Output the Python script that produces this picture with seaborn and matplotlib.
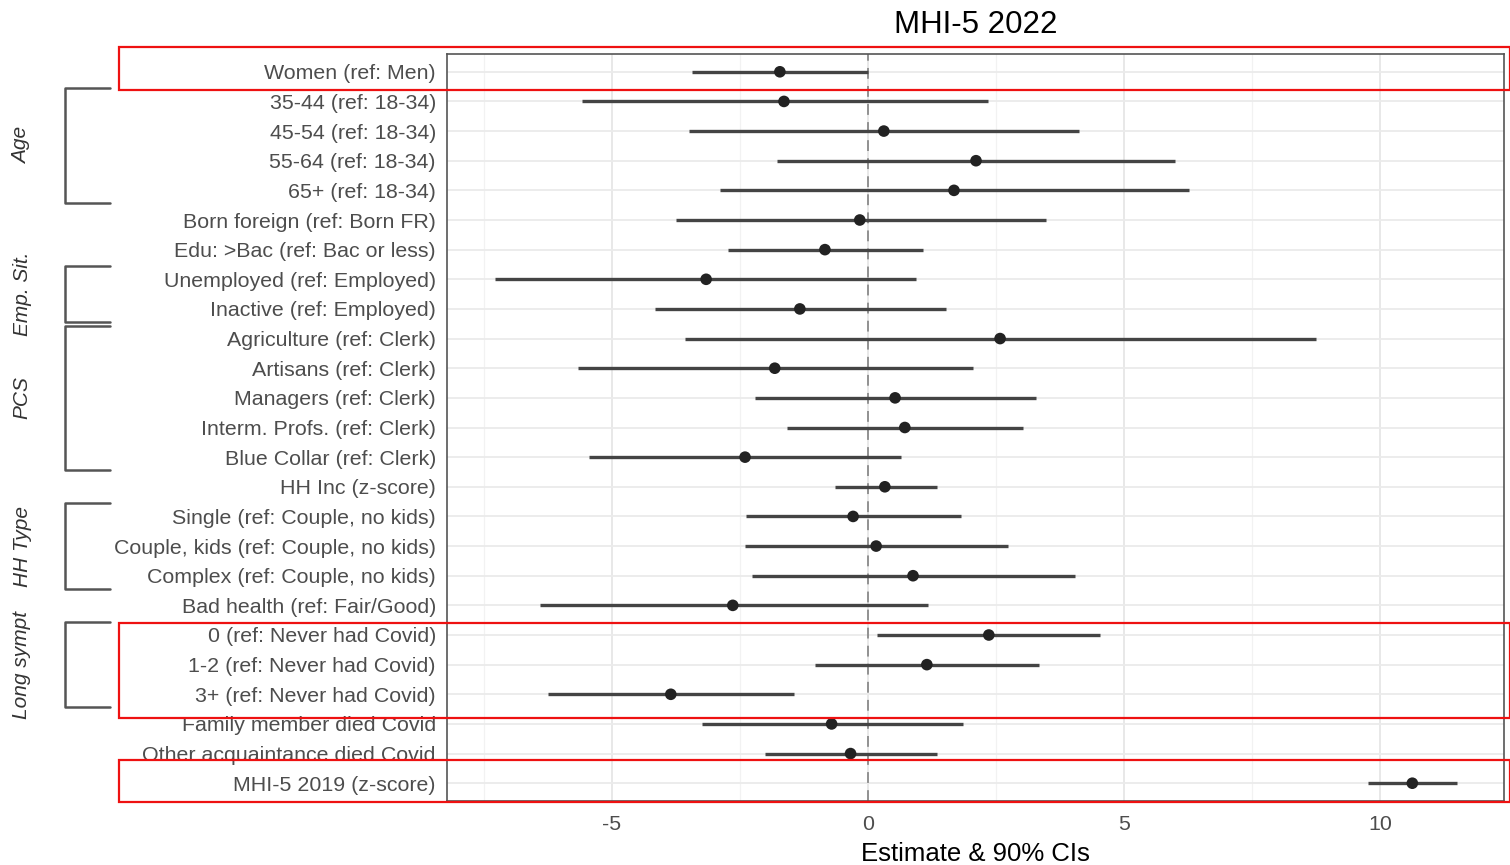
import numpy as np
import pandas as pd
import matplotlib
matplotlib.use("Agg")
import matplotlib.pyplot as plt
import matplotlib.transforms as mtransforms
from matplotlib.patches import Rectangle
from matplotlib.lines import Line2D
import seaborn as sns

# data
labels = [
    "Women (ref: Men)", "35-44 (ref: 18-34)", "45-54 (ref: 18-34)",
    "55-64 (ref: 18-34)", "65+ (ref: 18-34)", "Born foreign (ref: Born FR)",
    "Edu: >Bac (ref: Bac or less)", "Unemployed (ref: Employed)",
    "Inactive (ref: Employed)", "Agriculture (ref: Clerk)",
    "Artisans (ref: Clerk)", "Managers (ref: Clerk)",
    "Interm. Profs. (ref: Clerk)", "Blue Collar (ref: Clerk)",
    "HH Inc (z-score)", "Single (ref: Couple, no kids)",
    "Couple, kids (ref: Couple, no kids)", "Complex (ref: Couple, no kids)",
    "Bad health (ref: Fair/Good)", "0 (ref: Never had Covid)",
    "1-2 (ref: Never had Covid)", "3+ (ref: Never had Covid)",
    "Family member died Covid", "Other acquaintance died Covid",
    "MHI-5 2019 (z-score)",
]
estimate = [-1.72, -1.64, 0.31, 2.11, 1.68, -0.16, -0.84, -3.16, -1.33, 2.58,
            -1.82, 0.53, 0.72, -2.40, 0.33, -0.29, 0.16, 0.88, -2.64, 2.36,
            1.15, -3.85, -0.71, -0.34, 10.63]
ci_low = [-3.44, -5.59, -3.50, -1.78, -2.89, -3.75, -2.73, -7.29, -4.16, -3.57,
          -5.66, -2.21, -1.58, -5.45, -0.64, -2.38, -2.40, -2.27, -6.41, 0.18,
          -1.04, -6.24, -3.25, -2.01, 9.77]
ci_high = [0.0, 2.34, 4.12, 6.00, 6.27, 3.48, 1.07, 0.94, 1.52, 8.75,
           2.05, 3.28, 3.03, 0.64, 1.35, 1.82, 2.73, 4.04, 1.17, 4.53,
           3.34, -1.44, 1.85, 1.35, 11.50]

group_names = ["Age", "Emp. Sit.", "PCS", "HH Type", "Long sympt"]
group_first = [1, 7, 9, 15, 19]
group_last = [4, 8, 13, 17, 21]

df = pd.DataFrame({"label": labels, "est": estimate,
                   "lo": ci_low, "hi": ci_high})
df["pos"] = np.arange(len(df))

sns.set_style("white")
plt.rcParams["font.family"] = ["Liberation Sans", "DejaVu Sans"]

W, H = 1510, 865
fig = plt.figure(figsize=(W / 100, H / 100), dpi=100)
ax = fig.add_axes([447 / W, 1 - 801 / H, (1504 - 447) / W, (801 - 54) / H])

# grid like ggplot theme_bw
for v in [-7.5, -2.5, 2.5, 7.5]:
    ax.axvline(v, color="#f2f2f2", lw=0.9, zorder=0)
for v in [-5, 0, 5, 10]:
    ax.axvline(v, color="#e6e6e6", lw=1.3, zorder=0)
for p in df["pos"]:
    ax.axhline(p, color="#ebebeb", lw=1.3, zorder=0)

ax.axvline(0, color="#8a8a8a", lw=1.3, ls=(0, (6, 4)), zorder=1)

ax.hlines(df["pos"], df["lo"], df["hi"], color="#444444", lw=2.4, zorder=2)
sns.scatterplot(data=df, x="est", y="pos", ax=ax, color="#222222", s=70,
                edgecolor="none", zorder=3, legend=False)

ax.set_xlim(-8.22, 12.42)
ax.set_ylim(len(df) - 0.4, -0.6)
ax.set_yticks(df["pos"])
ax.set_yticklabels(df["label"])
ax.set_xticks([-5, 0, 5, 10])
ax.set_xticklabels(["-5", "0", "5", "10"])
ax.tick_params(axis="both", labelsize=15.4, colors="#4d4d4d", length=4,
               width=1.2, pad=4)
ax.tick_params(axis="x", pad=6)
for s in ax.spines.values():
    s.set_color("#555555")
    s.set_linewidth(1.2)
ax.set_xlabel("Estimate & 90% CIs", fontsize=18.5, color="black", labelpad=6)
ax.set_ylabel("")
ax.set_title("MHI-5 2022", fontsize=22.5, color="black", pad=15)

# group brackets on the left
tr = mtransforms.blended_transform_factory(fig.transFigure, ax.transData)
x0, x1 = 65 / W, 110 / W
for name, a, b in zip(group_names, group_first, group_last):
    top, bot = a - 0.44, b + 0.44
    ax.add_line(Line2D([x1, x0, x0, x1], [top, top, bot, bot], transform=tr,
                       color="#555555", lw=1.8, clip_on=False))
    ax.text(22 / W, (a + b) / 2, name, transform=tr, rotation=90,
            fontsize=15, style="italic", color="#333333",
            ha="center", va="center", clip_on=False)

# red highlight boxes
for y_top, y_bot in [(47, 90), (623, 718), (760, 802)]:
    fig.patches.append(Rectangle((119 / W, 1 - y_bot / H), (W - 119) / W,
                                 (y_bot - y_top) / H, transform=fig.transFigure,
                                 fill=False, edgecolor="#ee1111", lw=1.6,
                                 zorder=10))

fig.savefig("out.png", dpi=100)
